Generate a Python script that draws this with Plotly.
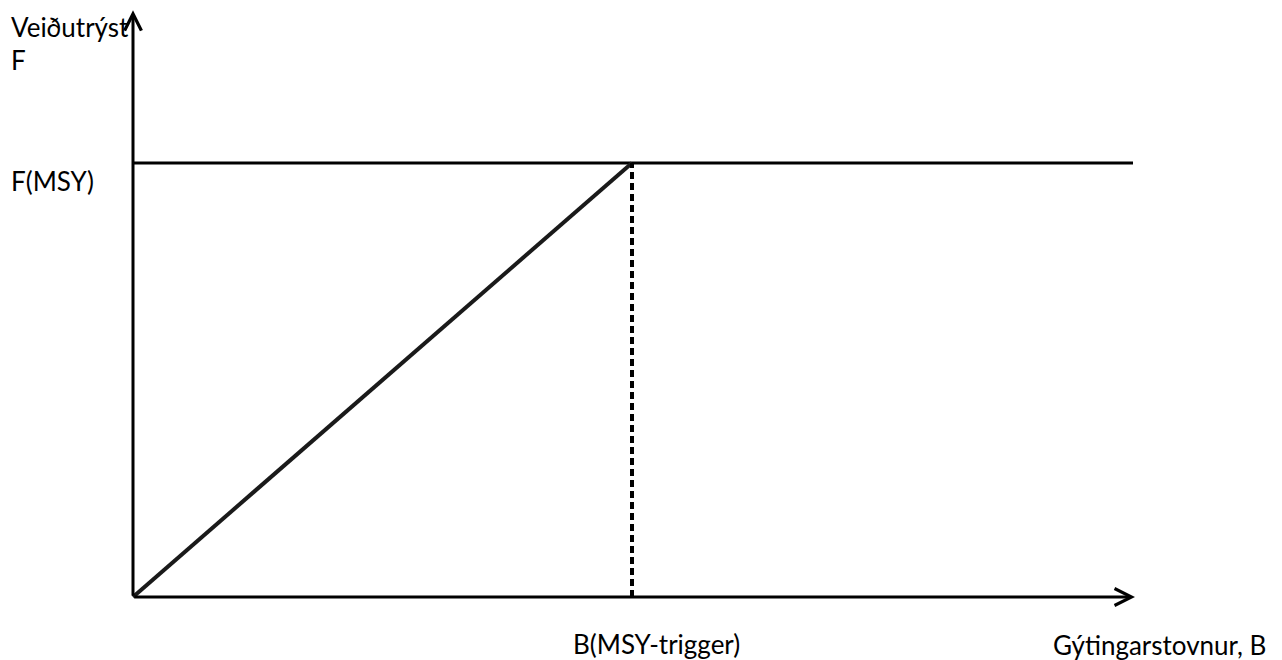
import plotly.graph_objects as go

# harvest control rule, in relative units (B / B_trigger, F / F_msy)
b_rule = [0.0, 1.0, 2.004]
f_rule = [0.0, 1.0, 1.0]
b_trigger = 1.0
f_msy = 1.0
b_axis_end = 2.008
f_axis_end = 1.352

y_title = "Veiðutrýst"
y_symbol = "F"
f_label = "F(MSY)"
b_label = "B(MSY-trigger)"
x_title = "Gýtingarstovnur, B"

W, H = 1282, 660
ink = "#000000"
font = dict(family="Lato, Open Sans, sans-serif", size=26, color=ink)

fig = go.Figure()

# F(MSY) level, drawn all the way from the y axis
fig.add_trace(go.Scatter(x=[0, b_rule[-1]], y=[f_msy, f_msy], mode="lines",
                         line=dict(color=ink, width=3), hoverinfo="skip"))
# rising part of the rule
fig.add_trace(go.Scatter(x=b_rule[:2], y=f_rule[:2], mode="lines",
                         line=dict(color="#1a1a1a", width=4), hoverinfo="skip"))
# dashed drop line at B trigger
fig.add_trace(go.Scatter(x=[b_trigger, b_trigger], y=[0, f_msy], mode="lines",
                         line=dict(color=ink, width=4, dash="7px,4px"), hoverinfo="skip"))

# axes with arrow heads
for ax, ay, x, y in [(0, 0, b_axis_end, 0), (0, 0, 0, f_axis_end)]:
    fig.add_annotation(x=x, y=y, ax=ax, ay=ay, xref="x", yref="y", axref="x", ayref="y",
                       showarrow=True, arrowhead=5, arrowsize=1.1, arrowwidth=3,
                       arrowcolor=ink, text="")

labels = [
    (y_title, 9, 27),
    (y_symbol, 9, 60),
    (f_label, 9, 181),
    (b_label, 571, 644),
    (x_title, 1051, 645),
]
for text, px, py in labels:
    fig.add_annotation(x=px / W, y=1 - py / H, xref="paper", yref="paper",
                       text=text, showarrow=False, xanchor="left", yanchor="middle",
                       font=font)

# pixel placement: origin at (133, 597), B trigger at x=632, F(MSY) at y=163
px_per_b = 632 - 133
px_per_f = 597 - 163
fig.update_xaxes(range=[-133 / px_per_b, (W - 133) / px_per_b], visible=False)
fig.update_yaxes(range=[-(H - 597) / px_per_f, 597 / px_per_f], visible=False)

fig.update_layout(width=W, height=H, margin=dict(l=0, r=0, t=0, b=0),
                  plot_bgcolor="white", paper_bgcolor="white", showlegend=False)

fig.write_html("out.html", config={"displayModeBar": False},
               post_script="document.body.style.margin = '0';")
